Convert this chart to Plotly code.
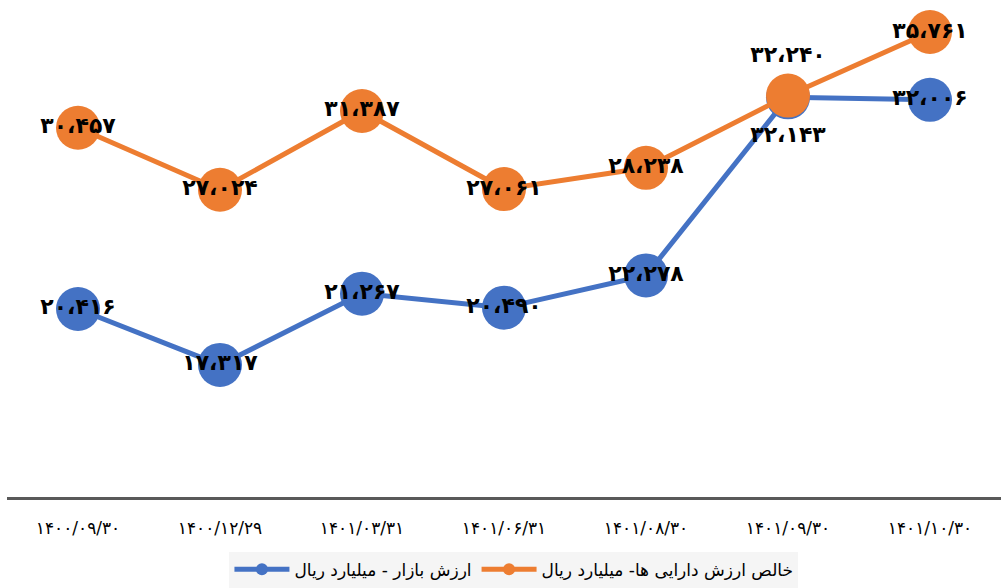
import plotly.graph_objects as go

categories = ["۱۴۰۰/۰۹/۳۰", "۱۴۰۰/۱۲/۲۹", "۱۴۰۱/۰۳/۳۱", "۱۴۰۱/۰۶/۳۱",
              "۱۴۰۱/۰۸/۳۰", "۱۴۰۱/۰۹/۳۰", "۱۴۰۱/۱۰/۳۰"]
market_value = [20416, 17317, 21267, 20490, 22278, 32143, 32006]
nav_value = [30457, 27024, 31387, 27061, 28238, 32240, 35761]
market_name = "ارزش بازار - میلیارد ریال"
nav_name = "خالص ارزش دارایی ها- میلیارد ریال"

PERSIAN = str.maketrans("0123456789,", "۰۱۲۳۴۵۶۷۸۹،")


def fa(v):
    return f"{v:,}".translate(PERSIAN)


market_pos = ["middle center"] * 5 + ["bottom center", "middle center"]
nav_pos = ["middle center"] * 5 + ["top center", "middle center"]

BLUE = "#4472C4"
ORANGE = "#ED7D31"
LABEL_FONT = dict(family="DejaVu Sans", size=22, color="black", weight="bold")

fig = go.Figure()
fig.add_trace(go.Scatter(
    x=categories, y=market_value, name=market_name,
    mode="lines+markers+text",
    line=dict(color=BLUE, width=5),
    marker=dict(color=BLUE, size=44),
    text=[fa(v) for v in market_value], textposition=market_pos,
    textfont=LABEL_FONT, cliponaxis=False,
))
fig.add_trace(go.Scatter(
    x=categories, y=nav_value, name=nav_name,
    mode="lines+markers+text",
    line=dict(color=ORANGE, width=5),
    marker=dict(color=ORANGE, size=44),
    text=[fa(v) for v in nav_value], textposition=nav_pos,
    textfont=LABEL_FONT, cliponaxis=False,
))

fig.update_layout(
    width=1001, height=588,
    margin=dict(l=7, r=0, t=0, b=91),
    plot_bgcolor="white", paper_bgcolor="white",
    showlegend=True,
    legend=dict(
        orientation="h", x=0.51, xanchor="center", y=-0.11, yanchor="top",
        bgcolor="#f5f5f5", font=dict(family="DejaVu Sans", size=17, color="black"),
        itemsizing="constant", itemwidth=55, traceorder="normal",
    ),
    xaxis=dict(
        type="category", range=[-0.5, 6.5],
        showline=True, linewidth=3, linecolor="#595959",
        showgrid=False, zeroline=False,
        ticks="outside", ticklen=14, tickcolor="rgba(0,0,0,0)",
        tickfont=dict(family="DejaVu Sans", size=17, color="black"),
    ),
    yaxis=dict(
        range=[10000, 37535], visible=False, showgrid=False, zeroline=False,
    ),
)

fig.write_html(
    "out.html",
    config={"displayModeBar": False},
    post_script="document.body.style.margin='0';document.body.style.overflow='hidden';",
)
